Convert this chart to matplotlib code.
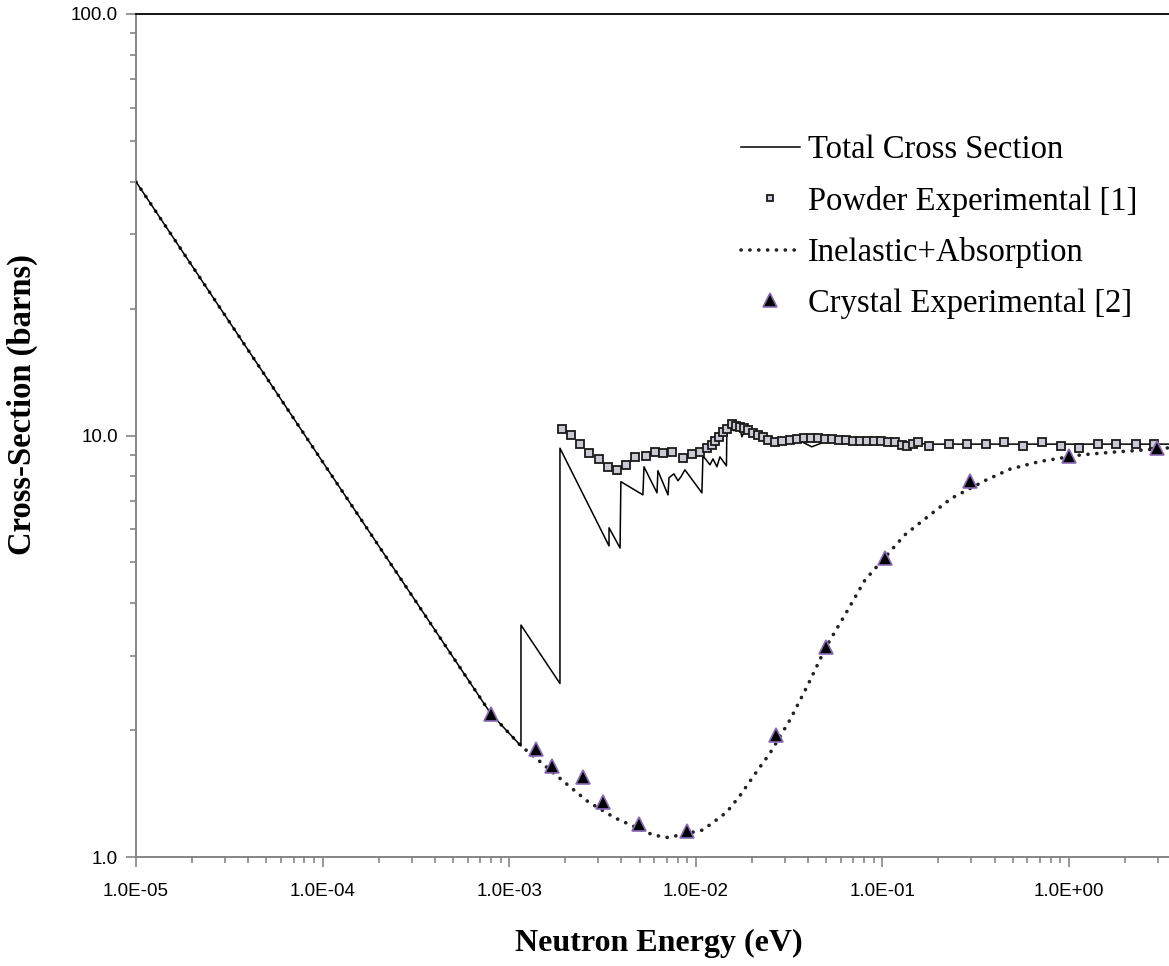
import numpy as np
import matplotlib.pyplot as plt
from matplotlib.ticker import FuncFormatter, LogLocator

# --- datos ---
# Inelastic + Absorption (linea punteada)
e_inel = [1e-5, 1e-4, 7.96e-4, 1.157e-3, 1.427e-3, 1.943e-3, 2.645e-3, 3.69e-3, 5.90e-3, 7.10e-3,
          1.093e-2, 1.464e-2, 1.726e-2, 2.12e-2, 2.50e-2, 3.20e-2, 3.99e-2, 4.99e-2,
          6.30e-2, 8.07e-2, 0.103, 0.132, 0.180, 0.235, 0.362, 0.483, 0.699, 1.170,
          1.721, 2.61, 3.44]
s_inel = [40.0, 8.66, 2.19, 1.834, 1.70, 1.515, 1.353, 1.238, 1.128, 1.112,
          1.159, 1.277, 1.398, 1.594, 1.763, 2.115, 2.56, 3.15,
          3.75, 4.54, 5.13, 5.81, 6.48, 7.10, 7.85, 8.32, 8.68, 9.00,
          9.13, 9.25, 9.35]

# Total Cross Section (linea continua)
e_tot = [1e-5, 1e-4, 7.96e-4, 1.157e-3, 1.157e-3, 1.872e-3, 1.872e-3, 3.43e-3, 3.43e-3, 3.93e-3,
         3.97e-3, 5.21e-3, 5.28e-3, 6.20e-3, 6.27e-3, 7.10e-3, 7.19e-3, 7.64e-3,
         8.03e-3, 8.33e-3, 8.75e-3, 1.079e-2, 1.093e-2, 1.192e-2, 1.237e-2, 1.299e-2,
         1.348e-2, 1.461e-2, 1.468e-2, 1.544e-2, 1.602e-2, 1.683e-2, 1.769e-2, 1.858e-2,
         1.952e-2, 2.21e-2, 2.50e-2, 2.83e-2, 3.62e-2, 4.19e-2, 5.24e-2, 9.71e-2,
         0.180, 3.44]
s_tot = [40.0, 8.66, 2.19, 1.834, 3.55, 2.58, 9.33, 5.47, 6.04, 5.41,
         7.77, 7.23, 8.43, 7.31, 8.25, 7.23, 7.94, 8.11,
         7.81, 7.98, 8.29, 7.31, 8.95, 8.52, 8.80, 8.43,
         8.90, 8.47, 10.31, 10.66, 10.26, 10.78, 9.93, 10.49,
         10.09, 9.98, 9.71, 9.56, 9.71, 9.40, 9.77, 9.66,
         9.54, 9.54]

# Powder Experimental [1]
e_pow = [1.91e-3, 2.14e-3, 2.40e-3, 2.68e-3, 3.04e-3, 3.40e-3, 3.80e-3, 4.22e-3, 4.72e-3, 5.41e-3,
         6.04e-3, 6.70e-3, 7.48e-3, 8.57e-3, 9.58e-3, 1.053e-2, 1.144e-2, 1.217e-2, 1.268e-2, 1.337e-2,
         1.404e-2, 1.476e-2, 1.558e-2, 1.642e-2, 1.726e-2, 1.82e-2, 1.91e-2, 2.03e-2, 2.16e-2, 2.30e-2,
         2.45e-2, 2.66e-2, 2.90e-2, 3.20e-2, 3.48e-2, 3.80e-2, 4.14e-2, 4.52e-2, 4.93e-2, 5.37e-2,
         5.86e-2, 6.40e-2, 6.96e-2, 7.60e-2, 8.27e-2, 9.02e-2, 9.83e-2, 0.107, 0.1168, 0.1269,
         0.1350, 0.1453, 0.1557, 0.1784, 0.2275, 0.2831, 0.3592, 0.450, 0.569, 0.714,
         0.906, 1.131, 1.436, 1.786, 2.286, 2.855]
s_pow = [10.35, 10.04, 9.54, 9.08, 8.79, 8.44, 8.26, 8.52, 8.89, 8.95,
         9.16, 9.08, 9.16, 8.84, 9.05, 9.16, 9.33, 9.47, 9.68, 9.91,
         10.22, 10.35, 10.66, 10.54, 10.50, 10.41, 10.28, 10.16, 10.04, 9.91,
         9.77, 9.63, 9.71, 9.77, 9.82, 9.87, 9.87, 9.87, 9.82, 9.82,
         9.77, 9.77, 9.71, 9.71, 9.71, 9.71, 9.71, 9.66, 9.66, 9.50,
         9.42, 9.54, 9.65, 9.42, 9.54, 9.54, 9.54, 9.63, 9.45, 9.63,
         9.45, 9.33, 9.54, 9.54, 9.54, 9.54]

# Crystal Experimental [2]
e_cry = [7.96e-4, 1.39e-3, 1.70e-3, 2.49e-3, 3.17e-3, 4.98e-3, 9.0e-3, 2.69e-2, 4.99e-2,
         0.103, 0.294, 1.0, 2.95]
s_cry = [2.19, 1.80, 1.64, 1.55, 1.35, 1.20, 1.153, 1.95, 3.15,
         5.13, 7.78, 8.92, 9.33]

serif = ['Liberation Serif', 'DejaVu Serif']
sans = ['Liberation Sans', 'DejaVu Sans']
gris = '#868686'

fig = plt.figure(figsize=(11.69, 9.66), dpi=100)
ax = fig.add_axes([136/1169, 109/966, 1033/1169, 843/966])

l_tot, = ax.plot(e_tot, s_tot, color='black', lw=1.1, zorder=3)
l_pow, = ax.plot(e_pow, s_pow, ls='none', marker='s', ms=5.5, mfc='#c9cad4',
                 mec='#1a1a1a', mew=1.3, zorder=4)
l_inel, = ax.plot(e_inel, s_inel, color='#222222', lw=2.6,
                  ls=(0, (0.05, 2.4)), dash_capstyle='round', zorder=2)
l_cry, = ax.plot(e_cry, s_cry, ls='none', marker='^', ms=9.5, mfc='black',
                 mec='#8a6bb8', mew=1.2, zorder=5)

ax.set_xscale('log')
ax.set_yscale('log')
ax.set_xlim(1e-5, 3.44)
ax.set_ylim(1, 100)

ax.xaxis.set_major_locator(LogLocator(base=10, numticks=20))
ax.xaxis.set_minor_locator(LogLocator(base=10, subs=np.arange(2, 10), numticks=20))
ax.xaxis.set_major_formatter(FuncFormatter(lambda v, p: f"{v:.1E}"))
ax.yaxis.set_major_formatter(FuncFormatter(lambda v, p: f"{v:.1f}"))
ax.xaxis.set_minor_formatter(FuncFormatter(lambda v, p: ""))
ax.yaxis.set_minor_formatter(FuncFormatter(lambda v, p: ""))

for s in ['left', 'bottom']:
    ax.spines[s].set_color(gris)
    ax.spines[s].set_linewidth(1.4)
ax.spines['top'].set_color('black')
ax.spines['top'].set_linewidth(1.3)
ax.spines['right'].set_visible(False)

ax.tick_params(which='major', direction='out', length=7, width=1.2, color=gris,
               labelsize=13.5, pad=12)
ax.tick_params(which='minor', direction='out', length=4.5, width=1.2, color=gris)
ax.tick_params(axis='y', which='major', pad=6)
for lab in ax.get_xticklabels() + ax.get_yticklabels():
    lab.set_family(sans)

fig.text(659/1169, 1 - 943/966, 'Neutron Energy (eV)', family=serif, weight='bold',
         fontsize=23, ha='center', va='center')
fig.text(22/1169, 1 - 405/966, 'Cross-Section (barns)', family=serif, weight='bold',
         fontsize=23.5, ha='center', va='center', rotation=90)

leg = ax.legend([l_tot, l_pow, l_inel, l_cry],
                ['Total Cross Section', 'Powder Experimental [1]',
                 'Inelastic+Absorption', 'Crystal Experimental [2]'],
                loc='upper left', bbox_to_anchor=(741/1169, 1 - 135/966),
                bbox_transform=fig.transFigure, frameon=False,
                prop={'family': serif, 'size': 23.5}, handlelength=1.8,
                handletextpad=0.25, labelspacing=0.62, borderpad=0, borderaxespad=0)
leg.legend_handles[1].set_markersize(4.5)
leg.legend_handles[3].set_markersize(10)

fig.savefig('out.png', dpi=100)
